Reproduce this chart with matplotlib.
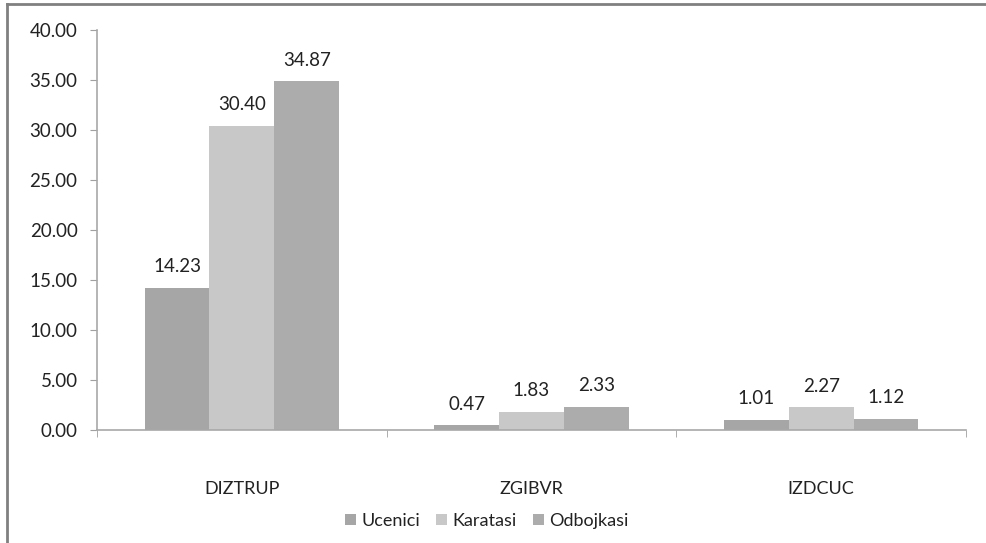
import matplotlib
matplotlib.use("Agg")
import matplotlib.pyplot as plt
from matplotlib.patches import Patch
from matplotlib.lines import Line2D
import numpy as np

categories = ["DIZTRUP", "ZGIBVR", "IZDCUC"]
series_names = ["Ucenici", "Karatasi", "Odbojkasi"]
ucenici = [14.23, 0.47, 1.01]
karatasi = [30.40, 1.83, 2.27]
odbojkasi = [34.87, 2.33, 1.12]
yticks = [0, 5, 10, 15, 20, 25, 30, 35, 40]

colors = ["#a6a6a6", "#c8c8c8", "#acacac"]
plt.rcParams['font.family'] = ['Lato', 'DejaVu Sans']

fig = plt.figure(figsize=(9.87, 5.43), dpi=100)
ax = fig.add_axes([97/987, 1-430/543, (966-97)/987, 400/543])

x = np.arange(len(categories))
w = 0.224
data = [ucenici, karatasi, odbojkasi]
for i, (vals, c, name) in enumerate(zip(data, colors, series_names)):
    pos = x + (i - 1) * w
    ax.bar(pos, vals, width=w, color=c, edgecolor='none', label=name)
    for px, v in zip(pos, vals):
        ax.annotate(f"{v:.2f}", (px, v), xytext=(0, 9), textcoords='offset points',
                    ha='center', va='bottom', fontsize=13.5, color='#222222')

ax.set_xlim(-0.5, 2.5)
ax.set_ylim(0, 40)
ax.set_yticks(yticks)
ax.set_yticklabels([f"{t:.2f}" for t in yticks], fontsize=13.5, color='#222222')
ax.set_xticks(x)
ax.set_xticklabels(categories, fontsize=13, color='#222222')
ax.tick_params(axis='x', length=0, pad=37)
ax.set_xticks([-0.5, 0.5, 1.5, 2.5], minor=True)
ax.tick_params(axis='x', which='minor', length=5, color='#a0a0a0', direction='out')
ax.tick_params(axis='y', length=5, color='#a0a0a0', pad=9)
for s in ['top', 'right']:
    ax.spines[s].set_visible(False)
for s in ['left', 'bottom']:
    ax.spines[s].set_color('#a8a8a8')
    ax.spines[s].set_linewidth(1.2)

handles = [Patch(facecolor=c, edgecolor='none') for c in colors]
fig.legend(handles, series_names, loc='center', bbox_to_anchor=(487/987, 1-521/543),
           ncol=3, frameon=False, fontsize=13, handlelength=0.6, handleheight=0.6,
           handletextpad=0.3, columnspacing=0.9, labelcolor='#222222')

# outer frame lines
fig.add_artist(Line2D([7/987, 7/987], [0, 1-4/543], color='#808080', lw=2, transform=fig.transFigure))
fig.add_artist(Line2D([7/987, 1], [1-4/543, 1-4/543], color='#808080', lw=2, transform=fig.transFigure))

fig.savefig("out.png", dpi=100)
